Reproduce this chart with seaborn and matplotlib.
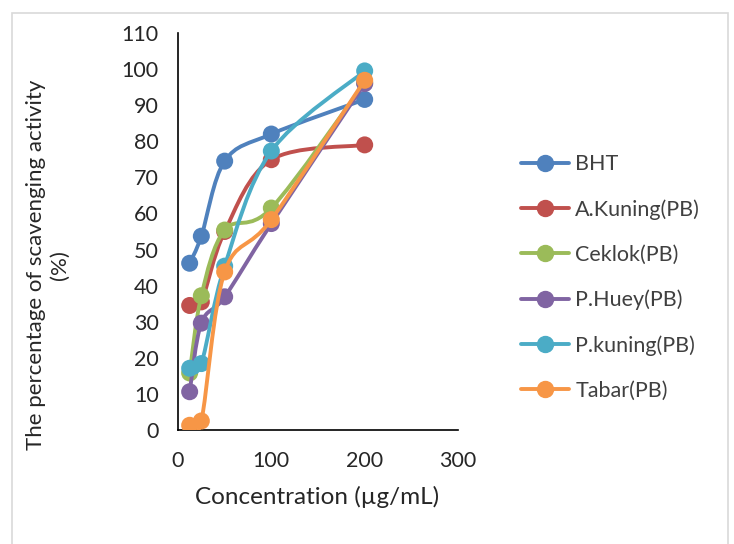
import matplotlib.pyplot as plt
import seaborn as sns
import pandas as pd
from matplotlib.path import Path
from matplotlib.patches import PathPatch, Rectangle
from matplotlib.lines import Line2D

# ---------------- Data ----------------
conc = [12.5, 25, 50, 100, 200]
series_names = ['BHT', 'A.Kuning(PB)', 'Ceklok(PB)', 'P.Huey(PB)', 'P.kuning(PB)', 'Tabar(PB)']
bht = [46.2, 53.7, 74.5, 82.0, 91.6]
a_kuning = [34.5, 35.5, 55.0, 74.9, 79.0]
ceklok = [15.8, 37.2, 55.4, 61.5, 96.2]
p_huey = [10.6, 29.6, 36.9, 57.2, 96.0]
p_kuning = [17.1, 18.4, 45.4, 77.3, 99.5]
tabar = [1.3, 2.5, 43.8, 58.3, 96.9]
colors = ['#4F81BD', '#C0504D', '#9BBB59', '#8064A2', '#4BACC6', '#F79646']

values = [bht, a_kuning, ceklok, p_huey, p_kuning, tabar]
df = pd.DataFrame({
    'Concentration': conc * len(series_names),
    'Activity': [v for vals in values for v in vals],
    'Sample': [n for n in series_names for _ in conc],
})

sns.set_style('white')
plt.rcParams['font.family'] = ['Lato', 'DejaVu Sans']


def smooth_path(xs, ys):
    # Excel-like smoothed line: cubic bezier segments through each point
    pts = list(zip(xs, ys))
    verts = [pts[0]]
    codes = [Path.MOVETO]
    n = len(pts)
    for i in range(n - 1):
        p0 = pts[i - 1] if i > 0 else pts[i]
        p1 = pts[i]
        p2 = pts[i + 1]
        p3 = pts[i + 2] if i + 2 < n else pts[i + 1]
        c1 = (p1[0] + (p2[0] - p0[0]) / 6, p1[1] + (p2[1] - p0[1]) / 6)
        c2 = (p2[0] - (p3[0] - p1[0]) / 6, p2[1] - (p3[1] - p1[1]) / 6)
        verts += [c1, c2, p2]
        codes += [Path.CURVE4] * 3
    return Path(verts, codes)


fig = plt.figure(figsize=(7.34, 5.44), dpi=100)
ax = fig.add_axes([0.2425, 0.2096, 0.3815, 0.7297])

for i, name in enumerate(series_names):
    sub = df[df['Sample'] == name]
    path = smooth_path(sub['Concentration'].tolist(), sub['Activity'].tolist())
    ax.add_patch(PathPatch(path, facecolor='none', edgecolor=colors[i], lw=2.8,
                           zorder=2 + i * 2, capstyle='round'))
    sns.scatterplot(data=sub, x='Concentration', y='Activity', color=colors[i],
                    s=150, edgecolor='none', ax=ax, zorder=3 + i * 2, legend=False)

ax.set_xlim(0, 300)
ax.set_ylim(0, 110)
ax.set_xticks(range(0, 301, 100))
ax.set_yticks(range(0, 111, 10))
ax.tick_params(length=0, labelsize=15.5)
ax.tick_params(axis='y', pad=14)
ax.tick_params(axis='x', pad=15)
for s in ['top', 'right']:
    ax.spines[s].set_visible(False)
for s in ['left', 'bottom']:
    ax.spines[s].set_color('black')
    ax.spines[s].set_linewidth(1.2)
ax.set_xlabel('')
ax.set_ylabel('')
fig.text(317.5 / 734, 1 - 497 / 544, 'Concentration (µg/mL)', fontsize=17.5,
         ha='center', va='center')
fig.text(48 / 734, 1 - 265 / 544, 'The percentage of scavenging activity\n(%)',
         fontsize=16, rotation=90, ha='center', va='center', multialignment='center',
         linespacing=1.2)

handles = [Line2D([], [], color=c, lw=2.8, marker='o', markersize=11.5) for c in colors]
leg = fig.legend(handles, series_names, loc='upper left', bbox_to_anchor=(0.684, 0.752),
                 frameon=False, fontsize=15.5, labelspacing=1.16, handlelength=2.2,
                 handletextpad=0.3, labelcolor='#404040')

fig.patches.append(Rectangle((12 / 734, -0.01), 716 / 734, 1 - 13 / 544 + 0.01,
                             transform=fig.transFigure, fill=False,
                             edgecolor='#D9D9D9', lw=1.2))

fig.savefig('out.png', dpi=100)
